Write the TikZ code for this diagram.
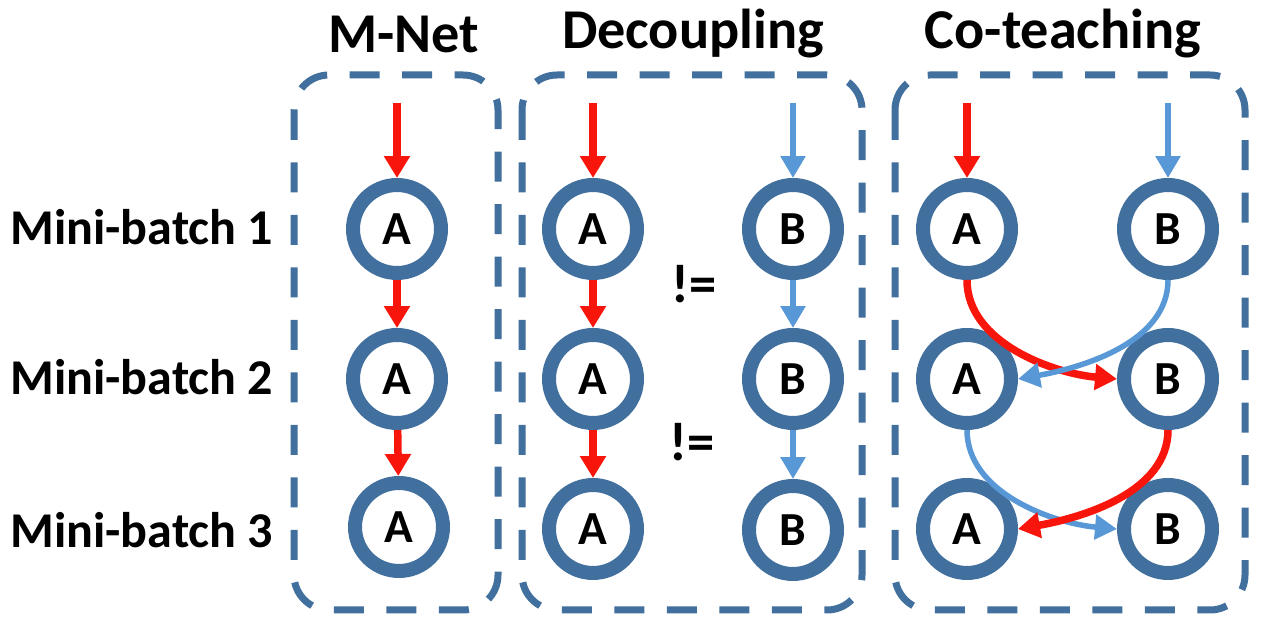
\documentclass[tikz,border=0pt]{standalone}
\usepackage{fontspec}
\setmainfont{Carlito}
\usetikzlibrary{arrows.meta, positioning}
\definecolor{ringblue}{RGB}{65,112,158}
\definecolor{lightblue}{RGB}{88,152,214}
\definecolor{arrowred}{RGB}{248,22,12}
\tikzset{
    netnode/.style={circle, draw=ringblue, line width=0.28cm, fill=white,
                    minimum size=1.76cm, inner sep=0pt,
                    font=\fontsize{27}{29}\selectfont\bfseries},
    groupbox/.style={draw=ringblue, line width=0.14cm,
                     dash pattern=on 0.6cm off 0.45cm, rounded corners=0.7cm},
    redarrow/.style={-{Triangle[length=0.44cm, width=0.5cm]}, line width=0.15cm, draw=arrowred},
    bluearrow/.style={-{Triangle[length=0.44cm, width=0.48cm]}, line width=0.11cm, draw=lightblue},
    rowlbl/.style={anchor=west, inner sep=0pt, font=\fontsize{28.5}{30}\selectfont\bfseries},
    grouptitle/.style={inner sep=0pt, font=\fontsize{32}{34}\selectfont\bfseries},
    neqlbl/.style={inner sep=0pt, font=\fontsize{31}{33}\selectfont\bfseries},
}
\begin{document}
\begin{tikzpicture}[x=0.02cm, y=-0.02cm]
    \useasboundingbox[fill=white] (0,0) rectangle (1262,634);

    % group boxes and titles
    \draw[groupbox] (294,75) rectangle (498,610);
    \draw[groupbox] (522,75) rectangle (862,610);
    \draw[groupbox] (895,75) rectangle (1245,610);
    \node[grouptitle] (tmnet) at (404,34) {M-Net};
    \node[grouptitle] (tdec) at (693,34) {Decoupling};
    \node[grouptitle] (tco) at (1063,34) {Co-teaching};

    % row labels
    \node[rowlbl] (row1) at (10,227) {Mini-batch 1};
    \node[rowlbl] (row2) at (10,377) {Mini-batch 2};
    \node[rowlbl] (row3) at (10,530) {Mini-batch 3};

    % M-Net
    \node[netnode] (ma1) at (397,229) {A};
    \node[netnode] (ma2) at (397,379) {A};
    \node[netnode] (ma3) at (399,527) {A};
    \coordinate (min) at (397,103);
    \draw[redarrow] (min) -- (ma1);
    \draw[redarrow] (ma1) -- (ma2);
    \draw[redarrow] (ma2) -- (ma3);

    % Decoupling
    \node[netnode] (da1) at (593,229) {A};
    \node[netnode] (da2) at (593,379) {A};
    \node[netnode] (da3) at (593,529) {A};
    \node[netnode] (db1) at (793,229) {B};
    \node[netnode] (db2) at (793,379) {B};
    \node[netnode] (db3) at (793,530) {B};
    \coordinate (dain) at (593,103);
    \coordinate (dbin) at (793,103);
    \draw[redarrow] (dain) -- (da1);
    \draw[redarrow] (da1) -- (da2);
    \draw[redarrow] (da2) -- (da3);
    \draw[bluearrow] (dbin) -- (db1);
    \draw[bluearrow] (db1) -- (db2);
    \draw[bluearrow] (db2) -- (db3);
    \node[neqlbl] (neq1) at (694,284) {!=};
    \node[neqlbl] (neq2) at (692,442) {!=};

    % Co-teaching
    \node[netnode] (ca1) at (967,229) {A};
    \node[netnode] (ca2) at (967,379) {A};
    \node[netnode] (ca3) at (967,529) {A};
    \node[netnode] (cb1) at (1168,229) {B};
    \node[netnode] (cb2) at (1168,379) {B};
    \node[netnode] (cb3) at (1168,529) {B};
    \coordinate (cain) at (967,103);
    \coordinate (cbin) at (1168,103);
    \draw[redarrow] (cain) -- (ca1);
    \draw[bluearrow] (cbin) -- (cb1);
    \draw[redarrow] (ca1.south) to[out=-90, in=175, looseness=0.9] (cb2.west);
    \draw[bluearrow] (cb1.south) to[out=-90, in=10, looseness=0.9] (ca2.east);
    \draw[bluearrow] (ca2.south) to[out=-90, in=175, looseness=0.9] (cb3.west);
    \draw[redarrow] (cb2.south) to[out=-90, in=10, looseness=0.9] (ca3.east);
\end{tikzpicture}
\end{document}
